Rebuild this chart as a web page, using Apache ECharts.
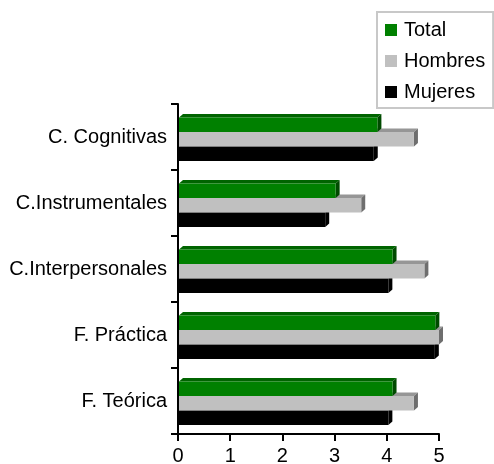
<!DOCTYPE html>
<html>
<head>
<meta charset="utf-8">
<script src="https://cdn.jsdelivr.net/npm/echarts@6/dist/echarts.min.js"></script>
<style>html,body{margin:0;padding:0;background:#fff;}#c{width:494px;height:464px;}</style>
</head>
<body>
<div id="c"></div>
<script>
const categories = ['C. Cognitivas', 'C.Instrumentales', 'C.Interpersonales', 'F. Práctica', 'F. Teórica'];
const seriesNames = ['Total', 'Hombres', 'Mujeres'];
const total = [3.82, 3.02, 4.11, 4.93, 4.11];
const hombres = [4.52, 3.51, 4.72, 5.00, 4.52];
const mujeres = [3.75, 2.82, 4.03, 4.92, 4.03];
const xTicks = [0, 1, 2, 3, 4, 5];

const FONT = '"Liberation Sans", Arial, sans-serif';
const palettes = [
  { front: '#008000', top: '#006400', side: '#004a00' },
  { front: '#c0c0c0', top: '#969696', side: '#6e6e6e' },
  { front: '#000000', top: '#000000', side: '#000000' }
];

function makeRender(s) {
  const p = palettes[s];
  return function (params, api) {
    const v = api.value(0);
    const i = api.value(1);
    const band = api.size([0, 1])[1];
    const cy = api.coord([0, i])[1];
    const x0 = api.coord([0, i])[0] + 1;
    const x1 = api.coord([v, i])[0];
    const h = band * 0.22;
    const shift = band * 0.035;
    const yTop = cy - 1.5 * h + shift + s * h;
    const yBot = yTop + h;
    const dx = 4, dy = 3.5;
    return {
      type: 'group',
      children: [
        { type: 'polygon', shape: { points: [[x0, yTop], [x1, yTop], [x1 + dx, yTop - dy], [x0 + dx, yTop - dy]] }, style: { fill: p.top } },
        { type: 'polygon', shape: { points: [[x1, yTop], [x1 + dx, yTop - dy], [x1 + dx, yBot - dy], [x1, yBot]] }, style: { fill: p.side } },
        { type: 'rect', shape: { x: x0, y: yTop, width: x1 - x0, height: h }, style: { fill: p.front } }
      ]
    };
  };
}

const dataSets = [total, hombres, mujeres];
const series = dataSets.map((arr, s) => ({
  name: seriesNames[s],
  type: 'custom',
  renderItem: makeRender(s),
  encode: { x: 0, y: 1 },
  clip: false,
  z: 10 - s,
  itemStyle: { color: palettes[s].front },
  data: arr.map((v, i) => [v, i])
}));

const chart = echarts.init(document.getElementById('c'), null, { renderer: 'canvas' });
chart.setOption({
  backgroundColor: '#ffffff',
  animation: false,
  textStyle: { fontFamily: FONT },
  grid: { left: 178, right: 55, top: 104, bottom: 30, containLabel: false, outerBoundsMode: 'none' },
  legend: {
    orient: 'vertical',
    left: 377,
    top: 12,
    data: seriesNames.map(n => ({ name: n, icon: 'rect' })),
    itemWidth: 12,
    itemHeight: 12,
    itemGap: 11,
    padding: [8, 8, 6, 8],
    borderColor: '#c8c8c8',
    borderWidth: 2,
    textStyle: { fontFamily: FONT, fontSize: 20, color: '#000', padding: [0, 0, 0, 2], lineHeight: 20 }
  },
  xAxis: {
    type: 'value',
    min: xTicks[0],
    max: xTicks[xTicks.length - 1],
    interval: 1,
    splitLine: { show: false },
    axisLine: { show: true, lineStyle: { color: '#000', width: 2 } },
    axisTick: { show: true, length: 7, lineStyle: { color: '#000', width: 2 } },
    axisLabel: { color: '#000', fontSize: 20, fontFamily: FONT, margin: 12 }
  },
  yAxis: {
    type: 'category',
    data: categories,
    inverse: true,
    axisLine: { show: true, lineStyle: { color: '#000', width: 2 } },
    axisTick: { show: true, length: 7, lineStyle: { color: '#000', width: 2 } },
    axisLabel: { color: '#000', fontSize: 20, fontFamily: FONT, margin: 11 }
  },
  series: series
});
</script>
</body>
</html>
